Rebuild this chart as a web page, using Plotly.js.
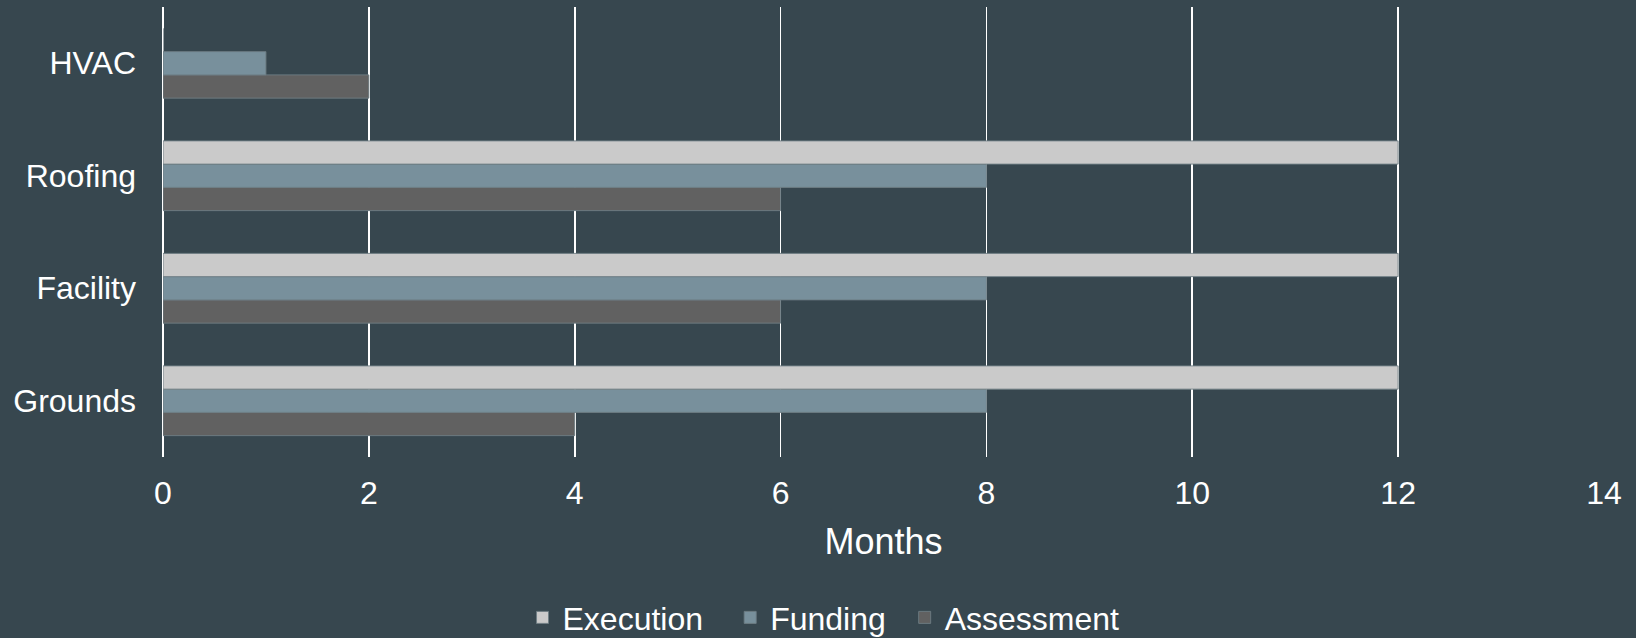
<!DOCTYPE html>
<html>
<head>
<meta charset="utf-8">
<script src="https://cdn.plot.ly/plotly-3.0.1.min.js"></script>
<style>
  html, body { margin: 0; padding: 0; background: #37474F; }
  #chart { width: 1636px; height: 638px; }
</style>
</head>
<body>
<div id="chart"></div>
<script>
// Categories listed bottom to top
const categories = ["Grounds", "Facility", "Roofing", "HVAC"];
const seriesNames = ["Assessment", "Funding", "Execution"];
const assessmentValues = [4, 6, 6, 2];
const fundingValues = [8, 8, 8, 1];
const executionValues = [12, 12, 12, 0];
const xTickValues = [0, 2, 4, 6, 8, 10, 12, 14];
const xTitle = "Months";

const colors = { Assessment: "#616161", Funding: "#78909C", Execution: "#CACACA" };
const bg = "#37474F";
const font = "Liberation Sans, Arial, sans-serif";
const fs = 32;

const seriesValues = [assessmentValues, fundingValues, executionValues];
const legendIds = ["legend3", "legend2", "legend"];

const traces = seriesNames.map((name, i) => ({
  type: "bar",
  orientation: "h",
  name: name,
  y: categories,
  x: seriesValues[i],
  legend: legendIds[i],
  marker: { color: colors[name], line: { color: "rgba(110,125,132,0.9)", width: 1 } },
  hoverinfo: "x+y+name"
}));

function legendAt(x) {
  return {
    x: x, xanchor: "left", xref: "paper",
    y: 0.032, yanchor: "middle", yref: "container",
    orientation: "h", bgcolor: "rgba(0,0,0,0)",
    font: { family: font, size: fs, color: "#FFFFFF" }
  };
}

const layout = {
  width: 1636, height: 638,
  margin: { l: 163, r: 32, t: 7, b: 181, pad: 0, autoexpand: false },
  paper_bgcolor: bg, plot_bgcolor: bg,
  font: { family: font, size: fs, color: "#FFFFFF" },
  barmode: "group",
  bargap: 0.38,
  bargroupgap: 0,
  showlegend: true,
  legend: legendAt(0.2495),
  legend2: legendAt(0.3936),
  legend3: legendAt(0.5147),
  xaxis: {
    range: [0, 14],
    tickvals: xTickValues,
    ticktext: xTickValues.map(String),
    showgrid: true, gridcolor: "#FFFFFF", gridwidth: 1.6,
    zeroline: true, zerolinecolor: "#FFFFFF", zerolinewidth: 1.6,
    showline: false, ticks: "",
    automargin: false,
    ticklabelstandoff: 14,
    tickfont: { family: font, size: fs, color: "#FFFFFF" },
    title: { text: xTitle, font: { family: font, size: 36, color: "#FFFFFF" }, standoff: 18 },
    fixedrange: true
  },
  yaxis: {
    type: "category",
    categoryorder: "array",
    categoryarray: categories,
    showgrid: false, zeroline: false, showline: false, ticks: "",
    automargin: false,
    ticklabelstandoff: 26,
    tickfont: { family: font, size: fs, color: "#FFFFFF" },
    fixedrange: true
  }
};

Plotly.newPlot("chart", traces, layout, { displayModeBar: false, staticPlot: true });
</script>
</body>
</html>
